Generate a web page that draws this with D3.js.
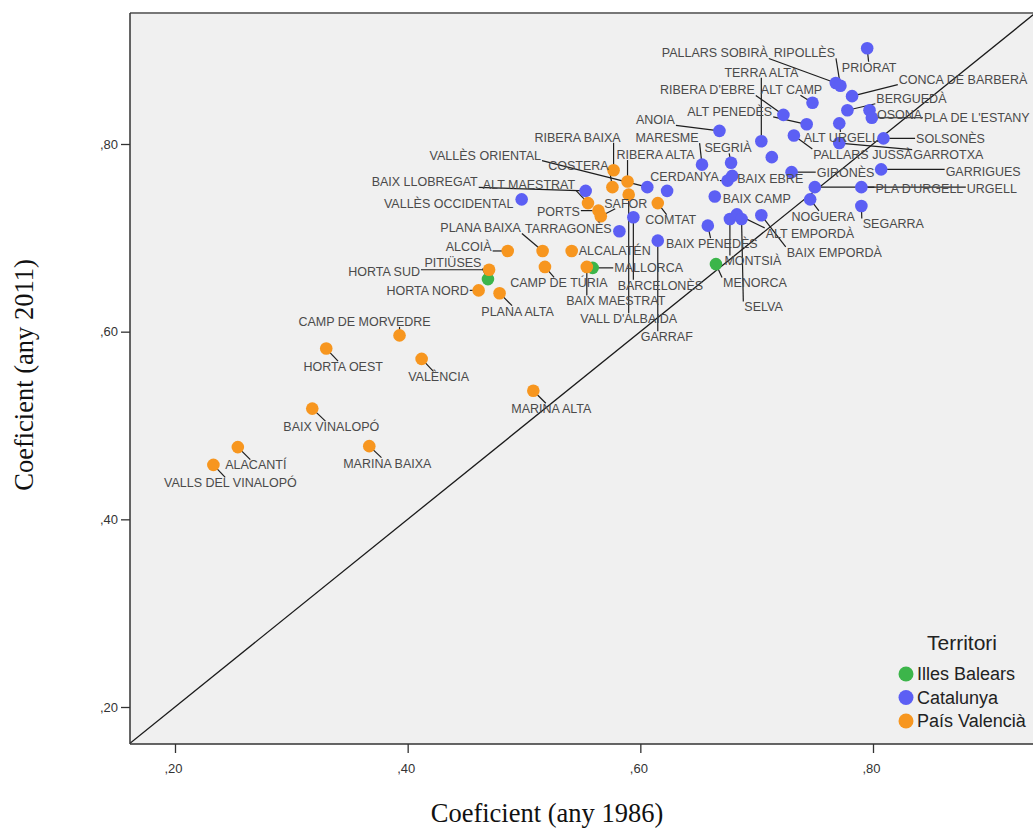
<!DOCTYPE html>
<html>
<head>
<meta charset="utf-8">
<script src="https://cdn.jsdelivr.net/npm/d3@7"></script>
<style>
  body { margin: 0; background: #ffffff; }
  svg { display: block; }
</style>
</head>
<body>
<svg id="chart" width="1033" height="832"></svg>
<script>
// ---------- data: inequality coefficient per comarca, 1986 vs 2011 ----------
const territories = ["Illes Balears", "Catalunya", "País Valencià"];

const balearsNames = ["MALLORCA", "PITIÜSES", "MENORCA"];
const balears1986  = [0.559, 0.469, 0.665];
const balears2011  = [0.668, 0.656, 0.672];

const catalunyaNames = [
  "PRIORAT", "PALLARS SOBIRÀ", "RIPOLLÈS", "CONCA DE BARBERÀ", "ALT CAMP", "BERGUEDÀ",
  "OSONA", "PLA DE L'ESTANY", "RIBERA D'EBRE", "ALT PENEDÈS", "ALT URGELL", "ANOIA",
  "PALLARS JUSSÀ", "TERRA ALTA", "SOLSONÈS", "GARROTXA", "MARESME", "SEGRIÀ", "",
  "GIRONÈS", "GARRIGUES", "CERDANYA", "BAIX EBRE", "VALLÈS ORIENTAL", "",
  "BAIX LLOBREGAT", "VALLÈS OCCIDENTAL", "PLA D'URGELL", "URGELL", "NOGUERA", "SEGARRA",
  "BAIX CAMP", "MONTSIÀ", "ALT EMPORDÀ", "SELVA", "BAIX EMPORDÀ", "BAIX PENEDÈS",
  "TARRAGONÈS", "BARCELONÈS", "GARRAF"
];
const catalunya1986 = [
  0.795, 0.768, 0.772, 0.782, 0.748, 0.778,
  0.797, 0.799, 0.723, 0.743, 0.771, 0.668,
  0.732, 0.704, 0.809, 0.771, 0.653, 0.678, 0.713,
  0.730, 0.807, 0.675, 0.679, 0.606, 0.623,
  0.553, 0.498, 0.790, 0.750, 0.746, 0.790,
  0.664, 0.677, 0.683, 0.687, 0.704, 0.658,
  0.582, 0.594, 0.615
];
const catalunya2011 = [
  0.902, 0.865, 0.862, 0.851, 0.844, 0.836,
  0.836, 0.828, 0.831, 0.821, 0.822, 0.814,
  0.809, 0.803, 0.806, 0.801, 0.778, 0.780, 0.786,
  0.770, 0.773, 0.761, 0.766, 0.754, 0.750,
  0.750, 0.741, 0.754, 0.754, 0.741, 0.734,
  0.744, 0.720, 0.725, 0.720, 0.724, 0.713,
  0.707, 0.722, 0.697
];

const valenciaNames = [
  "RIBERA BAIXA", "RIBERA ALTA", "COSTERA", "VALL D'ALBAIDA", "COMTAT", "ALT MAESTRAT",
  "PORTS", "SAFOR", "ALCOIÀ", "PLANA BAIXA", "ALCALATÉN", "CAMP DE TÚRIA",
  "BAIX MAESTRAT", "HORTA SUD", "HORTA NORD", "PLANA ALTA", "CAMP DE MORVEDRE",
  "HORTA OEST", "VALÈNCIA", "MARINA ALTA", "BAIX VINALOPÓ", "MARINA BAIXA",
  "ALACANTÍ", "VALLS DEL VINALOPÓ"
];
const valencia1986 = [
  0.577, 0.589, 0.576, 0.590, 0.615, 0.555,
  0.564, 0.566, 0.486, 0.516, 0.541, 0.518,
  0.554, 0.470, 0.461, 0.479, 0.393,
  0.330, 0.412, 0.508, 0.318, 0.367,
  0.254, 0.233
];
const valencia2011 = [
  0.772, 0.760, 0.754, 0.746, 0.737, 0.737,
  0.729, 0.723, 0.686, 0.686, 0.686, 0.669,
  0.669, 0.666, 0.644, 0.641, 0.596,
  0.582, 0.571, 0.537, 0.518, 0.478,
  0.477, 0.458
];

const xTicks = [0.2, 0.4, 0.6, 0.8];
const xTickLabels = [",20", ",40", ",60", ",80"];
const yTicks = [0.2, 0.4, 0.6, 0.8];
const yTickLabels = [",20", ",40", ",60", ",80"];

// ---------- label placement (offset of label centre from its marker, px) ----------
const labelOffset = {
  "PRIORAT": [2, 19], "PALLARS SOBIRÀ": [-121, -30], "RIPOLLÈS": [-36, -33],
  "CONCA DE BARBERÀ": [111, -17], "ALT CAMP": [-21, -13], "BERGUEDÀ": [64, -12],
  "OSONA": [30, 4], "PLA DE L'ESTANY": [105, 0], "RIBERA D'EBRE": [-76, -25],
  "ALT PENEDÈS": [-77, -13], "ALT URGELL": [2, 14], "ANOIA": [-64, -11],
  "PALLARS JUSSÀ": [69, 19], "TERRA ALTA": [0, -69], "SOLSONÈS": [67, 0],
  "GARROTXA": [109, 12], "MARESME": [-35, -27], "SEGRIÀ": [-3, -15],
  "GIRONÈS": [54, 0], "GARRIGUES": [102, 2], "CERDANYA": [-43, -4],
  "BAIX EBRE": [38, 3], "VALLÈS ORIENTAL": [-162, -32], "BAIX LLOBREGAT": [-161, -9],
  "VALLÈS OCCIDENTAL": [-73, 4], "PLA D'URGELL": [58, 1], "URGELL": [177, 1],
  "NOGUERA": [13, 17], "SEGARRA": [32, 18], "BAIX CAMP": [42, 2],
  "MONTSIÀ": [23, 42], "ALT EMPORDÀ": [73, 19], "SELVA": [22, 88],
  "BAIX EMPORDÀ": [73, 37], "BAIX PENEDÈS": [4, 18], "TARRAGONÈS": [-51, -3],
  "BARCELONÈS": [27, 68], "GARRAF": [9, 96],
  "RIBERA BAIXA": [-36, -33], "RIBERA ALTA": [28, -27], "COSTERA": [-34, -22],
  "VALL D'ALBAIDA": [0, 124], "COMTAT": [13, 17], "ALT MAESTRAT": [-59, -18],
  "PORTS": [-40, 1], "SAFOR": [25, -13], "ALCOIÀ": [-39, -4],
  "PLANA BAIXA": [-62, -23], "ALCALATÉN": [43, 0], "CAMP DE TÚRIA": [14, 16],
  "BAIX MAESTRAT": [29, 34], "HORTA SUD": [-105, 2], "HORTA NORD": [-51, 0],
  "PLANA ALTA": [18, 18], "CAMP DE MORVEDRE": [-35, -14], "HORTA OEST": [17, 18],
  "VALÈNCIA": [17, 18], "MARINA ALTA": [18, 18], "BAIX VINALOPÓ": [19, 18],
  "MARINA BAIXA": [18, 17], "ALACANTÍ": [18, 18], "VALLS DEL VINALOPÓ": [17, 18],
  "MALLORCA": [56, 0], "PITIÜSES": [-35, -16], "MENORCA": [39, 19]
};

// ---------- build point records (drawn in territory order) ----------
function rows(names, v86, v11, territory) {
  return names.map((n, i) => ({ name: n, x: v86[i], y: v11[i], territory }));
}
const points = [
  ...rows(balearsNames, balears1986, balears2011, "Illes Balears"),
  ...rows(catalunyaNames, catalunya1986, catalunya2011, "Catalunya"),
  ...rows(valenciaNames, valencia1986, valencia2011, "País Valencià")
];

// ---------- layout ----------
const svg = d3.select("#chart");
const plot = { left: 130, right: 1040, top: 13, bottom: 744 };

const x = d3.scaleLinear().domain([0.2, 0.8]).range([175, 873]);
const y = d3.scaleLinear().domain([0.2, 0.8]).range([707, 144]);
const color = d3.scaleOrdinal()
  .domain(territories)
  .range(["#3cb54a", "#5c5ff4", "#f7961f"]);

svg.append("defs").append("clipPath").attr("id", "plotClip")
  .append("rect")
  .attr("x", plot.left).attr("y", plot.top)
  .attr("width", plot.right - plot.left).attr("height", plot.bottom - plot.top);

// plot background
svg.append("rect")
  .attr("x", plot.left).attr("y", plot.top)
  .attr("width", plot.right - plot.left).attr("height", plot.bottom - plot.top)
  .attr("fill", "#f0f0f0");

const g = svg.append("g").attr("clip-path", "url(#plotClip)");

// reference line y = x
const lo = Math.max(x.invert(plot.left), y.invert(plot.bottom));
const hi = Math.min(x.invert(plot.right), y.invert(plot.top));
g.append("line")
  .attr("x1", x(lo)).attr("y1", y(lo))
  .attr("x2", x(hi)).attr("y2", y(hi))
  .attr("stroke", "#1a1a1a").attr("stroke-width", 1.3);

const leaderLayer = g.append("g");
const dotLayer = g.append("g");
const labelLayer = g.append("g");

const R = 6.3;
const labelSize = 12.5;

dotLayer.selectAll("circle").data(points).join("circle")
  .attr("cx", d => x(d.x)).attr("cy", d => y(d.y))
  .attr("r", R)
  .attr("fill", d => color(d.territory));

// end point of a leader on the label box: for nearby labels aim at the label
// centre, for distant ones take the closest point of the box
function leaderEnd(px, py, cx, cy, w, h) {
  const x0 = cx - w / 2 - 1, x1 = cx + w / 2 + 1;
  const y0 = cy - h / 2 - 1, y1 = cy + h / 2 + 1;
  const dx = cx - px, dy = cy - py;
  if (Math.abs(dx) <= 25 && Math.abs(dy) <= 25 && (dx || dy)) {
    let tx = 0, ty = 0;
    if (dx > 0 && px < x0) tx = (x0 - px) / dx;
    if (dx < 0 && px > x1) tx = (x1 - px) / dx;
    if (dy > 0 && py < y0) ty = (y0 - py) / dy;
    if (dy < 0 && py > y1) ty = (y1 - py) / dy;
    const tt = Math.max(tx, ty);
    return [px + dx * tt, py + dy * tt];
  }
  return [Math.max(x0, Math.min(px, x1)), Math.max(y0, Math.min(py, y1))];
}

const labelled = points.filter(d => d.name && labelOffset[d.name]);
labelLayer.selectAll("text").data(labelled).join("text")
  .attr("x", d => x(d.x) + labelOffset[d.name][0])
  .attr("y", d => y(d.y) + labelOffset[d.name][1])
  .attr("dy", "0.35em")
  .attr("text-anchor", "middle")
  .attr("font-family", "'Liberation Sans', Arial, sans-serif")
  .attr("font-size", labelSize)
  .attr("fill", "#4a4a4a")
  .text(d => d.name)
  .each(function (d) {
    const w = this.getComputedTextLength();
    const px = x(d.x), py = y(d.y);
    const cx = px + labelOffset[d.name][0];
    const cy = py + labelOffset[d.name][1];
    const [nx, ny] = leaderEnd(px, py, cx, cy, w, labelSize * 0.72);
    if (Math.hypot(nx - px, ny - py) > R + 1) {
      leaderLayer.append("line")
        .attr("x1", px).attr("y1", py).attr("x2", nx).attr("y2", ny)
        .attr("stroke", "#1e1e1e").attr("stroke-width", 1.2);
    }
  });

// frame
svg.append("line").attr("x1", plot.left).attr("x2", plot.right)
  .attr("y1", plot.top).attr("y2", plot.top)
  .attr("stroke", "#777").attr("stroke-width", 2);
svg.append("line").attr("x1", plot.left).attr("x2", plot.left)
  .attr("y1", plot.top).attr("y2", plot.bottom)
  .attr("stroke", "#333").attr("stroke-width", 1.5);
svg.append("line").attr("x1", plot.left).attr("x2", plot.right)
  .attr("y1", plot.bottom).attr("y2", plot.bottom)
  .attr("stroke", "#333").attr("stroke-width", 1.5);

// axes
const xAxis = svg.append("g")
  .attr("transform", `translate(0,${plot.bottom})`)
  .call(d3.axisBottom(x).tickValues(xTicks)
    .tickFormat((d, i) => xTickLabels[i]).tickSize(9).tickPadding(11));
const yAxis = svg.append("g")
  .attr("transform", `translate(${plot.left},0)`)
  .call(d3.axisLeft(y).tickValues(yTicks)
    .tickFormat((d, i) => yTickLabels[i]).tickSize(9).tickPadding(3));
[xAxis, yAxis].forEach(a => {
  a.select(".domain").remove();
  a.selectAll(".tick line").attr("stroke", "#333").attr("stroke-width", 1.3);
  a.selectAll(".tick text")
    .attr("font-family", "'Liberation Sans', Arial, sans-serif")
    .attr("font-size", 13).attr("fill", "#333");
});
xAxis.selectAll(".tick text").attr("dx", "-2");

// axis titles
svg.append("text")
  .attr("x", 547).attr("y", 822)
  .attr("text-anchor", "middle")
  .attr("font-family", "'Liberation Serif', 'Times New Roman', serif")
  .attr("font-size", 26.5).attr("fill", "#111")
  .text("Coeficient (any 1986)");
svg.append("text")
  .attr("transform", "translate(33,375) rotate(-90)")
  .attr("text-anchor", "middle")
  .attr("font-family", "'Liberation Serif', 'Times New Roman', serif")
  .attr("font-size", 26.5).attr("fill", "#111")
  .text("Coeficient (any 2011)");

// legend
const legend = svg.append("g");
legend.append("text")
  .attr("x", 962).attr("y", 650)
  .attr("text-anchor", "middle")
  .attr("font-family", "'Liberation Sans', Arial, sans-serif")
  .attr("font-size", 21).attr("fill", "#222")
  .text("Territori");
const items = legend.selectAll("g.item").data(territories).join("g")
  .attr("class", "item")
  .attr("transform", (d, i) => `translate(906,${674 + i * 23.5})`);
items.append("circle").attr("r", 7.5).attr("fill", d => color(d));
items.append("text")
  .attr("x", 11).attr("dy", "0.36em")
  .attr("font-family", "'Liberation Sans', Arial, sans-serif")
  .attr("font-size", 18).attr("fill", "#222")
  .text(d => d);
</script>
</body>
</html>
